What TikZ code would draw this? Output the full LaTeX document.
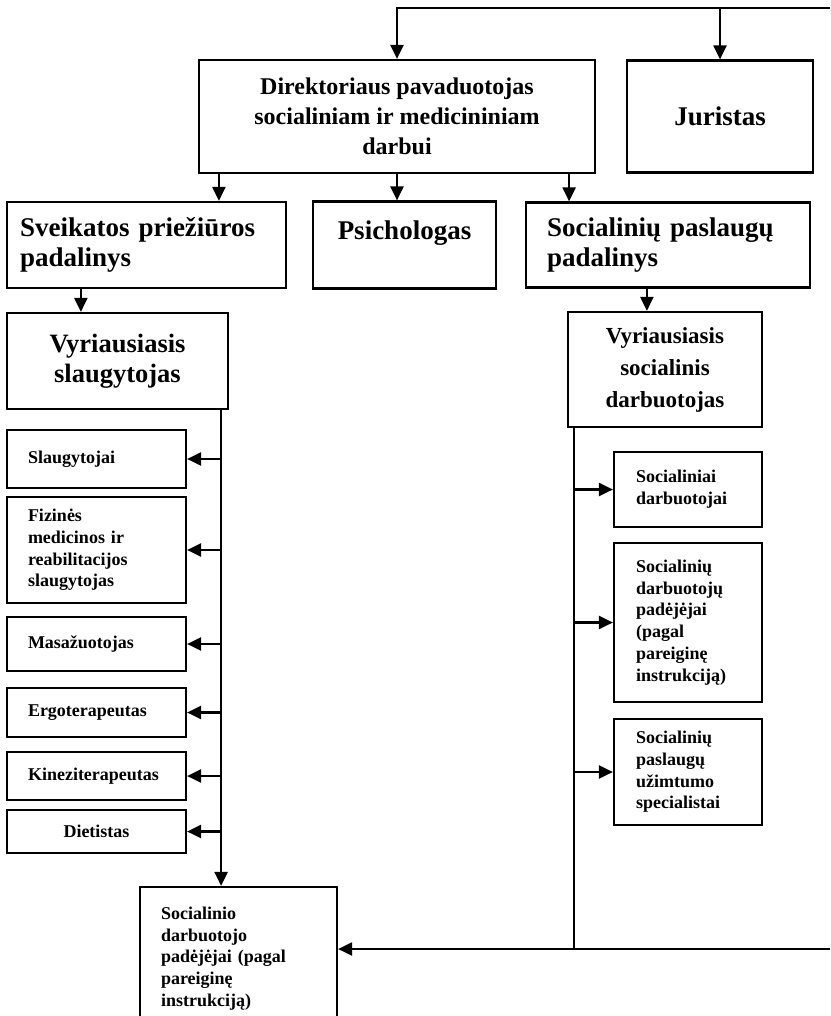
\documentclass[tikz,border=0pt]{standalone}
\usepackage{fontspec}
\setmainfont{Liberation Serif}
\usetikzlibrary{arrows.meta}

\begin{document}
\begin{tikzpicture}[
  x=1pt, y=-1pt,
  >={Triangle[length=14pt,width=13pt]},
  box/.style={draw, line width=2.2pt, inner sep=0pt, align=center},
  head/.style={box, font=\bfseries\fontsize{27}{30}\selectfont},
  unit/.style={box, align=left, text width=137pt, inner xsep=21pt, font=\bfseries\fontsize{18}{21.7}\selectfont},
  runit/.style={unit, text width=104pt, inner xsep=22pt},
  link/.style={->, line width=2.2pt}
]
\useasboundingbox (0,0) rectangle (830,1016);

\node[head, font=\bfseries\fontsize{24}{30}\selectfont, minimum width=396pt, minimum height=113pt] (dir) at (397,116.5) {Direktoriaus pavaduotojas\\socialiniam ir medicininiam\\darbui};
\node[head, minimum width=186pt, minimum height=112pt, right of=dir, node distance=323pt] (jur) {Juristas};

\node[head, align=left, text width=253pt, inner xsep=13pt, minimum height=86pt] (sveik) at (146.5,245) {Sveikatos priežiūros\\padalinys};
\node[head, minimum width=183pt, minimum height=87pt, right of=sveik, node distance=258pt] (psich) {Psichologas\\\mbox{}};
\node[head, align=left, text width=242pt, inner xsep=21pt, minimum height=85pt, right of=psich, node distance=263.5pt] (socp) {Socialinių paslaugų\\padalinys};

\node[head, font=\bfseries\fontsize{26.5}{30}\selectfont, minimum width=221pt, minimum height=96pt] (vslaug) at (117.5,361) {Vyriausiasis\\slaugytojas};
\node[head, font=\bfseries\fontsize{23}{32}\selectfont, minimum width=194pt, minimum height=115pt] (vsoc) at (665,369.5) {Vyriausiasis\\socialinis\\darbuotojas};

% Health care staff
\node[unit, minimum height=58pt] (slaug) at (96.5,459) {Slaugytojai};
\node[unit, minimum height=106pt, below of=slaug, node distance=91pt] (fiz) {Fizinės\\medicinos ir\\reabilitacijos\\slaugytojas};
\node[unit, minimum height=54pt, below of=fiz, node distance=94pt] (masaz) {Masažuotojas};
\node[unit, minimum height=49pt, below of=masaz, node distance=68.5pt] (ergo) {Ergoterapeutas};
\node[unit, minimum height=48pt, below of=ergo, node distance=63.5pt] (kinez) {Kineziterapeutas};
\node[unit, align=center, minimum height=43pt, below of=kinez, node distance=55.5pt] (diet) {Dietistas};

% Social services staff
\node[runit, minimum height=75pt] (socd) at (688,489.5) {Socialiniai\\darbuotojai};
\node[runit, minimum height=159pt, below of=socd, node distance=133pt] (socpad) {Socialinių\\darbuotojų\\padėjėjai\\(pagal\\pareiginę\\instrukciją)};
\node[runit, minimum height=106pt, below of=socpad, node distance=149.5pt] (socuz) {Socialinių\\paslaugų\\užimtumo\\specialistai};

\node[unit, text width=155pt, minimum height=143pt] (bot) at (238.5,958.5) {Socialinio\\darbuotojo\\padėjėjai (pagal\\pareiginę\\instrukciją)};

\coordinate (topr) at (830,8);
\coordinate (botr) at (830,949);
\coordinate (d1) at ([xshift=21pt]dir.south west);
\coordinate (d3) at ([xshift=-27pt]dir.south east);
\coordinate (s1) at ([xshift=75pt]sveik.south west);
\coordinate (s2) at ([xshift=122pt]socp.south west);
\coordinate (lt) at ([xshift=-8pt]vslaug.south east);
\coordinate (rt) at ([xshift=7pt]vsoc.south west);

% Arrows
\draw[link] (topr) -| (dir.north);
\draw[link] (topr -| jur.north) -- (jur.north);
\draw[link] (d1) -- (d1 |- sveik.north);
\draw[link] (dir.south) -- (dir.south |- psich.north);
\draw[link] (d3) -- (d3 |- socp.north);
\draw[link] (s1) -- (s1 |- vslaug.north);
\draw[link] (s2) -- (s2 |- vsoc.north);

% Left branch
\draw[link] (lt) -- (lt |- bot.north);
\draw[link] (lt |- slaug.east) -- (slaug.east);
\draw[link] (lt |- fiz.east) -- (fiz.east);
\draw[link] (lt |- masaz.east) -- (masaz.east);
\draw[link] (lt |- ergo.east) -- (ergo.east);
\draw[link] (lt |- kinez.east) -- (kinez.east);
\draw[link] (lt |- diet.east) -- (diet.east);

% Right branch
\draw[line width=2.2pt] (rt) -- (rt |- botr);
\draw[link] (rt |- socd.west) -- (socd.west);
\draw[link] (rt |- socpad.west) -- (socpad.west);
\draw[link] (rt |- socuz.west) -- (socuz.west);
\draw[link] (botr) -- (botr -| bot.east);
\end{tikzpicture}
\end{document}
